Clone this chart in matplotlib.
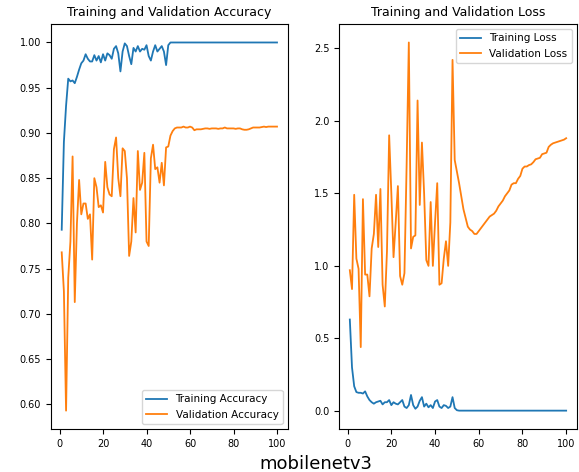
import numpy as np
from matplotlib import pyplot as plt

epochs = list(range(1, 101))

train_acc = [0.793, 0.89, 0.93, 0.960, 0.957, 0.958, 0.955, 0.962, 0.970, 0.977,
             0.980, 0.987, 0.982, 0.979, 0.979, 0.986, 0.980, 0.985, 0.978, 0.987,
             0.980, 0.988, 0.986, 0.982, 0.993, 0.996, 0.988, 0.968, 0.990, 0.999,
             0.996, 0.985, 0.976, 0.994, 0.990, 0.996, 0.990, 0.993, 0.992, 0.997,
             0.985, 0.980, 0.990, 0.997, 0.990, 0.993, 0.996, 0.990, 0.975, 0.997] + [1.0] * 50

val_acc = [0.768, 0.725, 0.593, 0.740, 0.780, 0.874, 0.713, 0.800, 0.848, 0.810,
           0.822, 0.822, 0.805, 0.810, 0.760, 0.850, 0.840, 0.818, 0.820, 0.812,
           0.868, 0.840, 0.832, 0.830, 0.882, 0.895, 0.850, 0.830, 0.883, 0.880,
           0.850, 0.764, 0.780, 0.828, 0.790, 0.880, 0.837, 0.845, 0.878, 0.780,
           0.775, 0.872, 0.887, 0.860, 0.862, 0.845, 0.867, 0.842, 0.884, 0.885,
           0.897, 0.902, 0.905, 0.906, 0.906, 0.906, 0.907, 0.906, 0.906, 0.907,
           0.906, 0.903, 0.904, 0.904, 0.904, 0.9045, 0.905, 0.905, 0.9045, 0.905,
           0.905, 0.905, 0.9045, 0.905, 0.905, 0.906, 0.905, 0.905, 0.905, 0.905,
           0.9045, 0.905, 0.905, 0.904, 0.9035, 0.9035, 0.904, 0.905, 0.906, 0.906,
           0.906, 0.906, 0.9065, 0.907, 0.9065, 0.907, 0.907, 0.907, 0.907, 0.907]

train_loss = [0.63, 0.30, 0.17, 0.13, 0.125, 0.125, 0.12, 0.135, 0.10, 0.075,
              0.06, 0.05, 0.06, 0.065, 0.07, 0.045, 0.06, 0.06, 0.075, 0.04,
              0.06, 0.05, 0.045, 0.06, 0.075, 0.03, 0.02, 0.04, 0.11, 0.04,
              0.015, 0.03, 0.07, 0.095, 0.03, 0.05, 0.025, 0.04, 0.02, 0.065,
              0.075, 0.03, 0.02, 0.04, 0.035, 0.02, 0.03, 0.095, 0.02, 0.005] + [0.002] * 50

val_loss = [0.97, 0.84, 1.49, 1.05, 0.98, 0.44, 1.46, 0.94, 0.94, 0.79,
            1.12, 1.22, 1.49, 1.13, 1.53, 0.87, 0.72, 1.10, 1.90, 1.50,
            1.06, 1.30, 1.55, 0.93, 0.87, 0.95, 1.70, 2.54, 1.12, 1.20,
            1.21, 2.14, 1.42, 1.85, 1.50, 1.04, 1.00, 1.44, 1.00, 1.30,
            1.57, 0.87, 0.88, 1.05, 1.17, 1.00, 1.30, 2.42, 1.73, 1.65,
            1.57, 1.48, 1.39, 1.33, 1.27, 1.25, 1.24, 1.22, 1.22, 1.24,
            1.26, 1.28, 1.30, 1.32, 1.34, 1.35, 1.36, 1.38, 1.41, 1.43,
            1.45, 1.48, 1.50, 1.52, 1.56, 1.57, 1.57, 1.60, 1.62, 1.67,
            1.685, 1.685, 1.695, 1.70, 1.715, 1.735, 1.74, 1.745, 1.77, 1.775,
            1.78, 1.82, 1.835, 1.845, 1.85, 1.855, 1.86, 1.865, 1.87, 1.88]

fig = plt.figure(figsize=(5.79, 4.72), dpi=100)
ax1 = fig.add_axes([0.088, 0.091, 0.409, 0.858])
ax2 = fig.add_axes([0.5855, 0.091, 0.411, 0.858])

lw = 1.3
ax1.plot(epochs, train_acc, label='Training Accuracy', lw=lw)
ax1.plot(epochs, val_acc, label='Validation Accuracy', lw=lw)
ax1.legend(loc='lower right', fontsize=7.5)
ax1.set_title('Training and Validation Accuracy', fontsize=9)

ax2.plot(epochs, train_loss, label='Training Loss', lw=lw)
ax2.plot(epochs, val_loss, label='Validation Loss', lw=lw)
ax2.legend(loc='upper right', fontsize=7.5)
ax2.set_title('Training and Validation Loss', fontsize=9)

for ax in (ax1, ax2):
    ax.tick_params(labelsize=7)
    ax.set_xticks([0, 20, 40, 60, 80, 100])

# model name under both panels
fig.text(0.545, 0.006, 'mobilenetv3', ha='center', va='baseline', fontsize=13)

fig.savefig('out.png', dpi=100)
